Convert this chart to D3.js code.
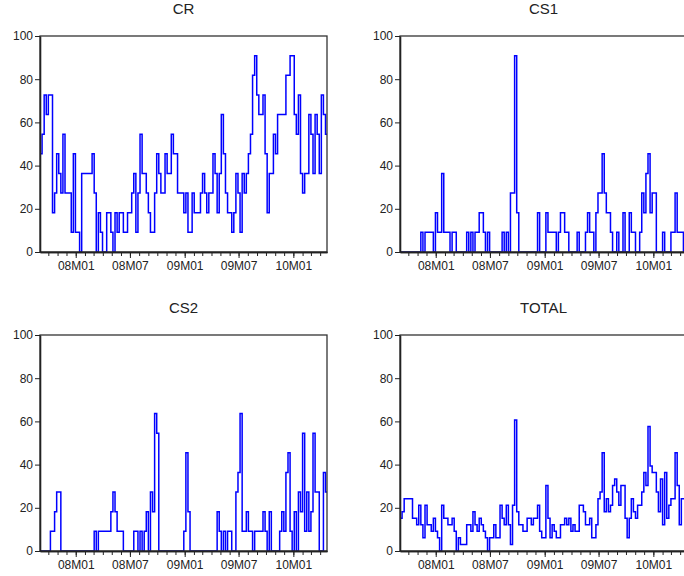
<!DOCTYPE html>
<html lang="en">
<head>
  <meta charset="UTF-8">
  <script src="https://cdn.jsdelivr.net/npm/d3@7"></script>
  <title>CR / CS1 / CS2 / TOTAL</title>
  <style>
    body { margin: 0; background: #fff; }
  </style>
</head>
<body>
<svg id="chart" width="684" height="576"></svg>
<script>
  // weekly observations, first week of Sept 2007 to late April 2010
  const firstWeek = new Date(2007, 8, 3);
  const lastDay = new Date(2010, 3, 24);
  const yTicks = [0, 20, 40, 60, 80, 100];
  const titles = ["CR", "CS1", "CS2", "TOTAL"];

  const crVals = [
    45.5, 54.5, 72.7, 63.6, 72.7, 72.7, 18.2, 27.3, 45.5, 36.4,
    27.3, 54.5, 27.3, 27.3, 27.3, 9.1, 45.5, 9.1, 9.1, 0,
    36.4, 36.4, 36.4, 36.4, 36.4, 45.5, 27.3, 0, 18.2, 9.1,
    0, 0, 18.2, 18.2, 9.1, 0, 18.2, 9.1, 18.2, 18.2,
    9.1, 9.1, 18.2, 18.2, 27.3, 36.4, 9.1, 27.3, 54.5, 36.4,
    36.4, 27.3, 18.2, 9.1, 9.1, 27.3, 45.5, 36.4, 27.3, 27.3,
    45.5, 36.4, 36.4, 54.5, 45.5, 45.5, 27.3, 27.3, 27.3, 18.2,
    27.3, 9.1, 9.1, 27.3, 18.2, 18.2, 18.2, 27.3, 36.4, 27.3,
    18.2, 27.3, 27.3, 45.5, 36.4, 18.2, 36.4, 63.6, 45.5, 27.3,
    18.2, 18.2, 9.1, 18.2, 36.4, 27.3, 9.1, 36.4, 27.3, 36.4,
    45.5, 54.5, 81.8, 90.9, 72.7, 63.6, 63.6, 72.7, 45.5, 18.2,
    36.4, 36.4, 54.5, 45.5, 63.6, 63.6, 63.6, 63.6, 81.8, 81.8,
    90.9, 90.9, 63.6, 54.5, 72.7, 36.4, 27.3, 36.4, 36.4, 63.6,
    54.5, 36.4, 63.6, 54.5, 36.4, 72.7, 63.6, 54.5
  ];

  const cs1Vals = [
    0, 0, 0, 0, 0, 0, 0, 0, 0, 0,
    9.1, 0, 9.1, 9.1, 9.1, 9.1, 0, 18.2, 9.1, 9.1,
    36.4, 9.1, 9.1, 9.1, 0, 9.1, 9.1, 0, 0, 0,
    0, 0, 9.1, 0, 9.1, 0, 9.1, 9.1, 18.2, 18.2,
    9.1, 0, 9.1, 0, 0, 0, 0, 0, 0, 9.1,
    0, 9.1, 0, 27.3, 27.3, 90.9, 18.2, 0, 0, 0,
    0, 0, 0, 0, 0, 0, 18.2, 0, 0, 0,
    18.2, 9.1, 9.1, 9.1, 9.1, 0, 9.1, 18.2, 18.2, 9.1,
    9.1, 0, 0, 0, 0, 9.1, 0, 0, 0, 9.1,
    18.2, 9.1, 9.1, 0, 18.2, 27.3, 27.3, 45.5, 27.3, 18.2,
    18.2, 9.1, 0, 0, 9.1, 0, 0, 18.2, 0, 0,
    18.2, 9.1, 9.1, 0, 0, 9.1, 27.3, 18.2, 36.4, 45.5,
    18.2, 27.3, 27.3, 0, 0, 0, 9.1, 0, 0, 0,
    9.1, 9.1, 27.3, 9.1, 9.1, 9.1, 0, 9.1
  ];

  const cs2Vals = [
    0, 0, 0, 0, 0, 9.1, 9.1, 18.2, 27.3, 27.3,
    0, 0, 0, 0, 0, 0, 0, 0, 0, 0,
    0, 0, 0, 0, 0, 0, 9.1, 0, 9.1, 9.1,
    9.1, 9.1, 9.1, 9.1, 18.2, 27.3, 18.2, 9.1, 9.1, 9.1,
    0, 0, 0, 0, 0, 9.1, 9.1, 0, 9.1, 0,
    9.1, 18.2, 0, 27.3, 18.2, 63.6, 54.5, 0, 0, 0,
    0, 0, 0, 0, 0, 0, 0, 0, 0, 9.1,
    45.5, 18.2, 0, 0, 0, 0, 0, 0, 0, 0,
    0, 0, 0, 0, 0, 18.2, 9.1, 0, 9.1, 0,
    9.1, 9.1, 0, 0, 27.3, 36.4, 63.6, 9.1, 9.1, 18.2,
    9.1, 9.1, 0, 9.1, 9.1, 9.1, 9.1, 18.2, 9.1, 0,
    18.2, 0, 0, 0, 0, 9.1, 18.2, 9.1, 36.4, 45.5,
    9.1, 0, 18.2, 0, 27.3, 18.2, 54.5, 9.1, 27.3, 9.1,
    18.2, 54.5, 27.3, 27.3, 0, 0, 36.4, 27.3
  ];

  const totalVals = [
    15.2, 18.2, 24.2, 24.2, 24.2, 24.2, 15.2, 15.2, 12.1, 21.2,
    12.1, 6.1, 21.2, 12.1, 12.1, 9.1, 15.2, 9.1, 6.1, 0,
    21.2, 15.2, 15.2, 12.1, 12.1, 15.2, 9.1, 0, 6.1, 3.0,
    3.0, 3.0, 12.1, 12.1, 9.1, 18.2, 12.1, 9.1, 15.2, 12.1,
    9.1, 6.1, 0, 6.1, 6.1, 12.1, 6.1, 6.1, 21.2, 15.2,
    12.1, 21.2, 12.1, 3.0, 21.2, 60.6, 18.2, 12.1, 12.1, 9.1,
    9.1, 15.2, 15.2, 12.1, 15.2, 15.2, 21.2, 9.1, 6.1, 6.1,
    30.3, 15.2, 6.1, 12.1, 9.1, 6.1, 6.1, 12.1, 12.1, 15.2,
    12.1, 15.2, 9.1, 12.1, 9.1, 9.1, 21.2, 21.2, 18.2, 12.1,
    12.1, 15.2, 6.1, 6.1, 12.1, 24.2, 27.3, 45.5, 18.2, 24.2,
    18.2, 21.2, 30.3, 33.3, 27.3, 21.2, 30.3, 30.3, 15.2, 6.1,
    15.2, 24.2, 18.2, 15.2, 21.2, 21.2, 27.3, 36.4, 30.3, 57.6,
    39.4, 36.4, 36.4, 27.3, 18.2, 33.3, 12.1, 36.4, 15.2, 21.2,
    24.2, 24.2, 45.5, 30.3, 12.1, 24.2, 24.2, 21.2
  ];

  const series = [crVals, cs1Vals, cs2Vals, totalVals];

  // panel placement (left, top) in page pixels
  const slots = [[40, 36], [400, 36], [40, 335], [400, 335]];
  const w = 287, h = 216;
  const font = '"Liberation Sans", Arial, sans-serif';

  let svg = d3.select("#chart");

  let x = d3.scaleTime().domain([firstWeek, lastDay]).range([0, w]);
  let y = d3.scaleLinear().domain([0, 100]).range([h, 0]);

  let line = d3.line()
    .x(d => x(d.date))
    .y(d => y(d.v))
    .curve(d3.curveStepAfter);

  series.forEach((vals, k) => {
    let g = svg.append("g")
      .attr("transform", `translate(${slots[k][0]},${slots[k][1]})`);

    let pts = vals.map((v, i) => ({ date: d3.timeDay.offset(firstWeek, 7 * i), v: v }));
    pts.push({ date: lastDay, v: vals[vals.length - 1] }); // hold last value to the edge

    g.append("path")
      .datum(pts)
      .attr("d", line)
      .attr("fill", "none")
      .attr("stroke", "#0000ff")
      .attr("stroke-width", 1.5);

    // box
    g.append("rect")
      .attr("width", w).attr("height", h)
      .attr("fill", "none")
      .attr("stroke", "#333")
      .attr("stroke-width", 1.3);

    /* AXES */
    let yAxis = g.append("g")
      .call(d3.axisLeft(y).tickValues(yTicks).tickSize(5).tickSizeOuter(0).tickPadding(2));

    let xMinor = g.append("g")
      .attr("transform", `translate(0,${h})`)
      .call(d3.axisBottom(x).ticks(d3.timeMonth.every(1)).tickSize(4).tickSizeOuter(0).tickFormat(""));

    let xMajor = g.append("g")
      .attr("transform", `translate(0,${h})`)
      .call(d3.axisBottom(x).ticks(d3.timeMonth.every(6)).tickSize(6).tickSizeOuter(0)
        .tickPadding(3).tickFormat(d3.timeFormat("%yM%m")));

    [yAxis, xMinor, xMajor].forEach(a => {
      a.attr("font-family", font).attr("font-size", 12);
      a.select(".domain").attr("stroke", "#222").attr("stroke-width", 1.6);
      a.selectAll(".tick line").attr("stroke", "#222");
      a.selectAll(".tick text").attr("fill", "#222");
    });

    // title
    g.append("text")
      .text(titles[k])
      .attr("x", w / 2)
      .attr("y", -22)
      .attr("text-anchor", "middle")
      .attr("font-family", font)
      .attr("font-size", 15)
      .attr("fill", "#222");
  });
</script>
</body>
</html>
